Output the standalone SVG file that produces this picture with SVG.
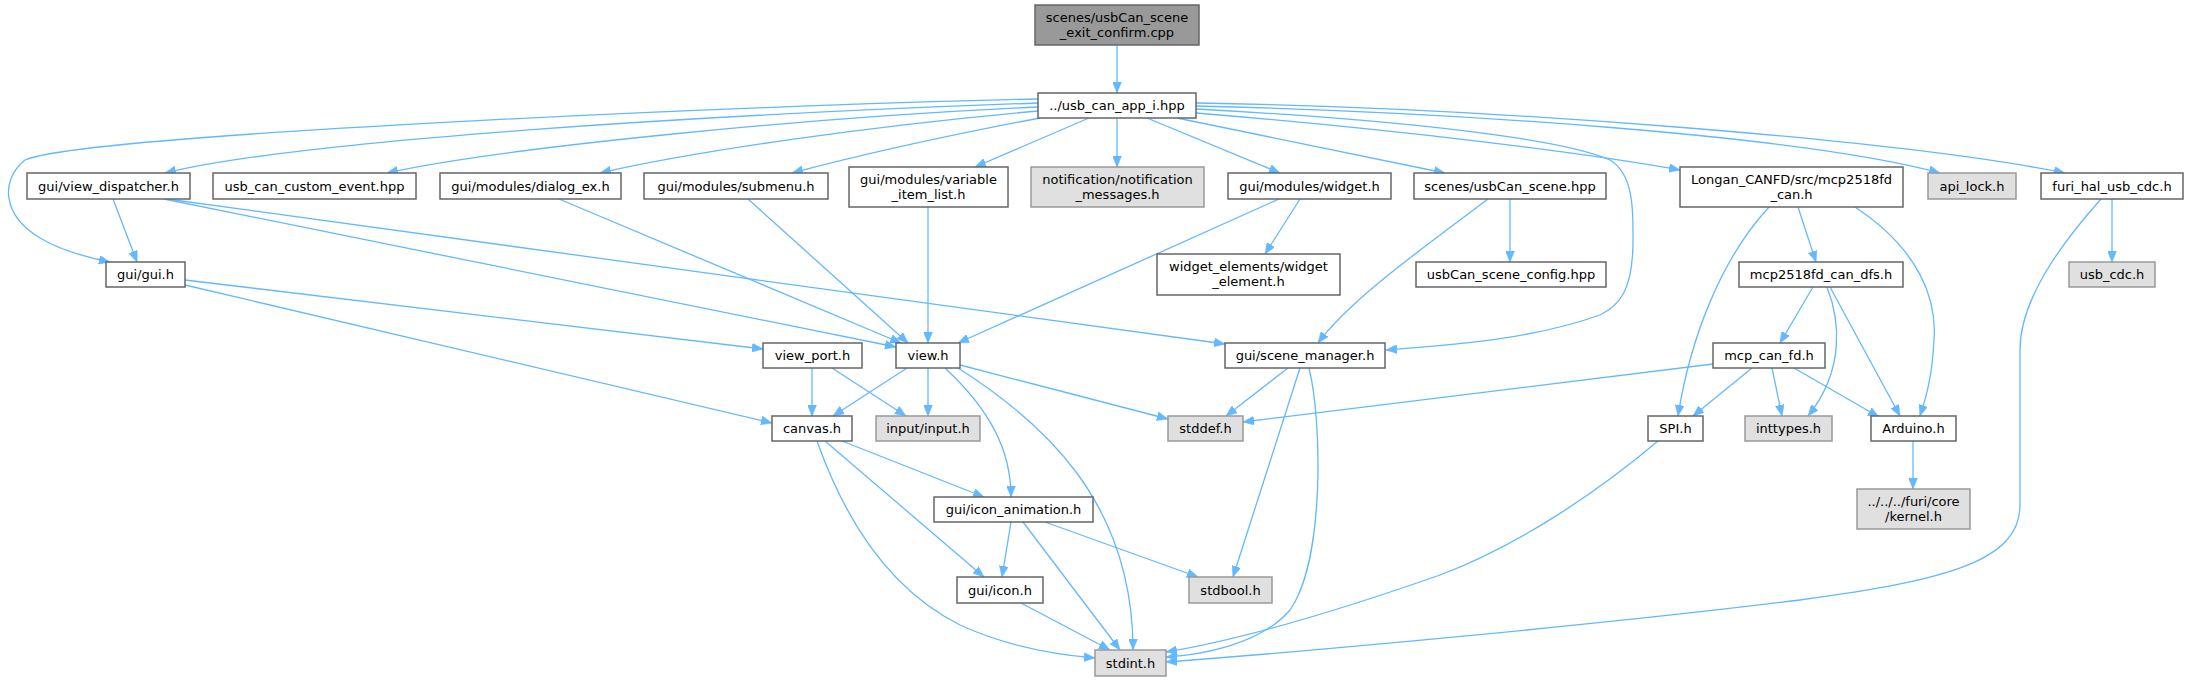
<svg xmlns="http://www.w3.org/2000/svg" width="2189" height="681" viewBox="0 0 2189 681">
<defs>
<style>
.n rect{fill:#ffffff;stroke:#666666;stroke-width:1.5}
.g rect{fill:#e0e0e0;stroke:#999999;stroke-width:1.5}
.r rect{fill:#999999;stroke:#666666;stroke-width:1.5}
text{font-family:"DejaVu Sans","Liberation Sans",sans-serif;font-size:13px;fill:#000000;text-anchor:middle}
#edges path{fill:none;stroke:#63b8ff;stroke-width:1.3;marker-end:url(#arr)}
</style>
<marker id="arr" markerUnits="userSpaceOnUse" markerWidth="11" markerHeight="9" refX="11" refY="4.5" orient="auto" viewBox="0 0 11 9">
<path d="M0,0 L11,4.5 L0,9 z" fill="#63b8ff" stroke="#63b8ff" stroke-width="0.5"/>
</marker>
</defs>
<rect x="0" y="0" width="2189" height="681" fill="#ffffff"/>
<g id="edges">
<path d="M1117,45 L1117,93"/>
<path d="M1038,99 C750,105 80,135 25,160 C0,180 2,215 40,238 C60,250 85,257 110,262"/>
<path d="M1038,103 C700,115 300,140 165,173"/>
<path d="M1038,107 C800,118 500,148 387,173"/>
<path d="M1038,111 C880,125 700,150 600,173"/>
<path d="M1040,118 C950,135 860,155 792,173"/>
<path d="M1089,118 L975,167"/>
<path d="M1117,118 L1117,167"/>
<path d="M1147,118 L1280,173"/>
<path d="M1177,118 L1445,173"/>
<path d="M1196,113 C1400,130 1580,152 1680,170"/>
<path d="M1196,106 C1450,112 1800,135 1940,173"/>
<path d="M1196,103 C1500,108 1900,140 2065,173"/>
<path d="M1196,109 C1400,120 1560,138 1610,160 C1635,175 1633,215 1633,240 C1633,290 1620,305 1600,315 C1530,340 1450,345 1386,350"/>
<path d="M113,199 L137,262"/>
<path d="M164,199 L896,347"/>
<path d="M167,199 L1225,344"/>
<path d="M559,199 L901,343"/>
<path d="M748,199 L908,343"/>
<path d="M928,207 L928,343"/>
<path d="M1279,199 L958,343"/>
<path d="M1300,199 L1265,254"/>
<path d="M1488,199 C1420,250 1350,300 1318,343"/>
<path d="M1510,199 L1510,262"/>
<path d="M1798,207 L1816,262"/>
<path d="M1769,207 C1720,260 1690,340 1678,416"/>
<path d="M1855,207 C1920,250 1937,300 1934,340 C1932,380 1925,400 1920,416"/>
<path d="M2112,199 L2112,262"/>
<path d="M2101,199 C2060,245 2020,300 2020,350 L2020,505 C2020,560 1950,580 1800,600 C1600,625 1300,652 1166,662"/>
<path d="M185,280 L763,349"/>
<path d="M185,285 L772,423"/>
<path d="M812,368 L812,416"/>
<path d="M832,368 L906,416"/>
<path d="M907,368 L833,416"/>
<path d="M928,368 L928,416"/>
<path d="M960,365 L1168,419"/>
<path d="M945,368 C990,410 1011,450 1011,497"/>
<path d="M958,368 C1040,420 1133,500 1133,650"/>
<path d="M1288,368 L1226,416"/>
<path d="M1300,368 L1233,577"/>
<path d="M1309,368 C1322,420 1325,560 1290,610 C1260,645 1200,655 1166,657"/>
<path d="M1813,287 L1780,343"/>
<path d="M1827,287 C1840,320 1845,370 1808,416"/>
<path d="M1830,287 L1900,416"/>
<path d="M1713,364 L1243,422"/>
<path d="M1752,368 L1693,416"/>
<path d="M1772,368 L1782,416"/>
<path d="M1794,368 L1879,417"/>
<path d="M1658,441 C1600,490 1520,545 1440,575 C1340,610 1240,640 1166,652"/>
<path d="M1913,441 L1913,489"/>
<path d="M842,441 L984,497"/>
<path d="M825,441 L984,577"/>
<path d="M817,441 C845,520 890,590 960,625 C1010,648 1060,655 1095,658"/>
<path d="M1011,522 L1002,577"/>
<path d="M1023,522 L1120,650"/>
<path d="M1045,522 L1198,577"/>
<path d="M1021,603 L1110,650"/>
</g>
<g id="node1" class="r"><rect x="1035" y="5" width="164" height="40"/><text x="1117" y="21.5">scenes/usbCan_scene</text><text x="1117" y="36.5">_exit_confirm.cpp</text></g>
<g id="node2" class="n"><rect x="1038" y="93" width="158" height="25"/><text x="1117" y="110">../usb_can_app_i.hpp</text></g>
<g id="node3" class="n"><rect x="27" y="173" width="163" height="26"/><text x="108.5" y="190.5">gui/view_dispatcher.h</text></g>
<g id="node4" class="n"><rect x="213" y="173" width="203" height="26"/><text x="314.5" y="190.5">usb_can_custom_event.hpp</text></g>
<g id="node5" class="n"><rect x="440" y="173" width="181" height="26"/><text x="530.5" y="190.5">gui/modules/dialog_ex.h</text></g>
<g id="node6" class="n"><rect x="644" y="173" width="184" height="26"/><text x="736" y="190.5">gui/modules/submenu.h</text></g>
<g id="node7" class="n"><rect x="849" y="167" width="159" height="40"/><text x="928.5" y="183.5">gui/modules/variable</text><text x="928.5" y="198.5">_item_list.h</text></g>
<g id="node8" class="g"><rect x="1031" y="167" width="173" height="40"/><text x="1117.5" y="183.5">notification/notification</text><text x="1117.5" y="198.5">_messages.h</text></g>
<g id="node9" class="n"><rect x="1228" y="173" width="163" height="26"/><text x="1309.5" y="190.5">gui/modules/widget.h</text></g>
<g id="node10" class="n"><rect x="1414" y="173" width="192" height="26"/><text x="1510" y="190.5">scenes/usbCan_scene.hpp</text></g>
<g id="node11" class="n"><rect x="1680" y="167" width="223" height="40"/><text x="1791.5" y="183.5">Longan_CANFD/src/mcp2518fd</text><text x="1791.5" y="198.5">_can.h</text></g>
<g id="node12" class="g"><rect x="1928" y="173" width="88" height="26"/><text x="1972" y="190.5">api_lock.h</text></g>
<g id="node13" class="n"><rect x="2041" y="173" width="142" height="26"/><text x="2112" y="190.5">furi_hal_usb_cdc.h</text></g>
<g id="node14" class="n"><rect x="106" y="262" width="79" height="25"/><text x="145.5" y="279">gui/gui.h</text></g>
<g id="node15" class="n"><rect x="1157" y="254" width="183" height="41"/><text x="1248.5" y="271">widget_elements/widget</text><text x="1248.5" y="286">_element.h</text></g>
<g id="node16" class="n"><rect x="1416" y="262" width="190" height="25"/><text x="1511" y="279">usbCan_scene_config.hpp</text></g>
<g id="node17" class="n"><rect x="1739" y="262" width="164" height="25"/><text x="1821" y="279">mcp2518fd_can_dfs.h</text></g>
<g id="node18" class="g"><rect x="2069" y="262" width="86" height="25"/><text x="2112" y="279">usb_cdc.h</text></g>
<g id="node19" class="n"><rect x="763" y="343" width="99" height="25"/><text x="812.5" y="360">view_port.h</text></g>
<g id="node20" class="n"><rect x="896" y="343" width="64" height="25"/><text x="928" y="360">view.h</text></g>
<g id="node21" class="n"><rect x="1225" y="343" width="160" height="25"/><text x="1305" y="360">gui/scene_manager.h</text></g>
<g id="node22" class="n"><rect x="1713" y="343" width="112" height="25"/><text x="1769" y="360">mcp_can_fd.h</text></g>
<g id="node23" class="n"><rect x="772" y="416" width="80" height="25"/><text x="812" y="433">canvas.h</text></g>
<g id="node24" class="g"><rect x="876" y="416" width="104" height="25"/><text x="928" y="433">input/input.h</text></g>
<g id="node25" class="g"><rect x="1168" y="416" width="75" height="25"/><text x="1205.5" y="433">stddef.h</text></g>
<g id="node26" class="n"><rect x="1648" y="416" width="55" height="25"/><text x="1675.5" y="433">SPI.h</text></g>
<g id="node27" class="g"><rect x="1745" y="416" width="87" height="25"/><text x="1788.5" y="433">inttypes.h</text></g>
<g id="node28" class="n"><rect x="1871" y="416" width="85" height="25"/><text x="1913.5" y="433">Arduino.h</text></g>
<g id="node29" class="g"><rect x="1857" y="489" width="113" height="40"/><text x="1913.5" y="505.5">../../../furi/core</text><text x="1913.5" y="520.5">/kernel.h</text></g>
<g id="node30" class="n"><rect x="934" y="497" width="159" height="25"/><text x="1013.5" y="514">gui/icon_animation.h</text></g>
<g id="node31" class="n"><rect x="957" y="577" width="86" height="26"/><text x="1000" y="594.5">gui/icon.h</text></g>
<g id="node32" class="g"><rect x="1189" y="577" width="83" height="26"/><text x="1230.5" y="594.5">stdbool.h</text></g>
<g id="node33" class="g"><rect x="1095" y="650" width="71" height="26"/><text x="1130.5" y="667.5">stdint.h</text></g>
</svg>
